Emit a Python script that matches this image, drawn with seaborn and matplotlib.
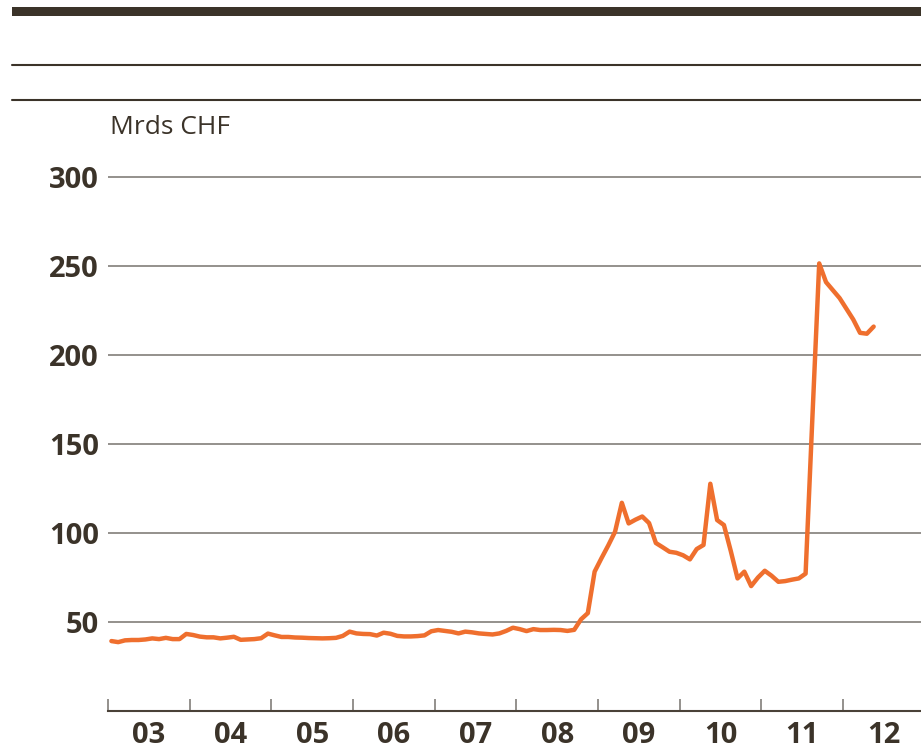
import numpy as np
import pandas as pd
import seaborn as sns
import matplotlib
matplotlib.use("Agg")
import matplotlib.pyplot as plt
from matplotlib.lines import Line2D
from matplotlib.patches import Rectangle

# monatswerte, Mrds CHF
v2003 = [39.3, 38.7, 39.7, 39.9, 39.9, 40.2, 40.8, 40.4, 41.1, 40.4, 40.4, 43.3]
v2004 = [42.7, 41.8, 41.4, 41.4, 40.8, 41.2, 41.7, 40.0, 40.2, 40.4, 40.9, 43.5]
v2005 = [42.5, 41.6, 41.6, 41.3, 41.2, 41.0, 40.9, 40.8, 40.9, 41.1, 42.2, 44.6]
v2006 = [43.6, 43.3, 43.2, 42.4, 44.0, 43.4, 42.2, 41.9, 41.9, 42.1, 42.5, 44.8]
v2007 = [45.5, 45.0, 44.5, 43.6, 44.6, 44.2, 43.6, 43.3, 43.0, 43.6, 45.0, 46.8]
v2008 = [46.0, 44.9, 46.0, 45.5, 45.5, 45.6, 45.5, 45.0, 45.6, 51.5, 55.0, 78.3]
v2009 = [85.8, 93.0, 100.7, 117.0, 105.4, 107.5, 109.3, 105.6, 94.4, 92.0, 89.5, 88.9]
v2010 = [87.5, 85.2, 91.0, 93.3, 127.7, 107.3, 104.5, 90.0, 74.5, 78.3, 70.2, 75.0]
v2011 = [78.8, 76.0, 72.6, 73.0, 73.8, 74.5, 77.2, 165.0, 251.5, 241.0, 236.5, 232.0]
v2012 = [226.0, 220.0, 212.5, 212.0, 216.0]

years = list(range(2003, 2013))
year_labels = ["03", "04", "05", "06", "07", "08", "09", "10", "11", "12"]
y_ticks = [50, 100, 150, 200, 250, 300]
unit = "Mrds CHF"

values = v2003 + v2004 + v2005 + v2006 + v2007 + v2008 + v2009 + v2010 + v2011 + v2012
dates = pd.date_range("2003-01-01", periods=len(values), freq="MS")
df = pd.DataFrame({"t": dates.year + (dates.month - 0.5) / 12, "wert": values})

sns.set_theme(style="white")
plt.rcParams["font.family"] = ["Open Sans", "DejaVu Sans"]

dark = "#3b3329"
fig = plt.figure(figsize=(9.21, 7.53), dpi=100)
ax = fig.add_axes([108 / 921, 42 / 753, 813 / 921, 541 / 753])

sns.lineplot(data=df, x="t", y="wert", ax=ax, color="#ef6f2e", linewidth=3.2)

ax.set_xlim(2003, 2003 + 813 / 81.67)
ax.set_ylim(0, 304)
ax.set_xlabel("")
ax.set_ylabel("")

ax.set_yticks(y_ticks)
ax.set_yticklabels([str(v) for v in y_ticks], fontsize=21, fontweight="bold", color=dark)
ax.tick_params(axis="y", length=0, pad=6.5)
ax.yaxis.grid(True, color="#77736d", linewidth=1.1)
ax.xaxis.grid(False)

ax.set_xticks(years)
ax.set_xticklabels([""] * len(years))
ax.set_xticks([y + 0.5 for y in years], minor=True)
ax.set_xticklabels(year_labels, minor=True, fontsize=21, fontweight="bold", color=dark)
ax.tick_params(axis="x", which="major", bottom=True, direction="in", length=8.5, width=1.1,
               color="#77736d")
ax.tick_params(axis="x", which="minor", bottom=True, length=0, pad=7)

for s in ["top", "right", "left"]:
    ax.spines[s].set_visible(False)
ax.spines["bottom"].set_color("#4a4238")
ax.spines["bottom"].set_linewidth(1.5)

fig.text(110 / 921, 1 - 134 / 753, unit, fontsize=19, color=dark, va="baseline")

# balken und linien oben
fig.add_artist(Rectangle((12 / 921, 1 - 16 / 753), 909 / 921, 9 / 753, transform=fig.transFigure,
                         color=dark, lw=0))
for yy in [65, 100]:
    fig.add_artist(Line2D([12 / 921, 1], [1 - yy / 753] * 2, transform=fig.transFigure,
                          color=dark, lw=1.5))

fig.savefig("out.png", dpi=100)
